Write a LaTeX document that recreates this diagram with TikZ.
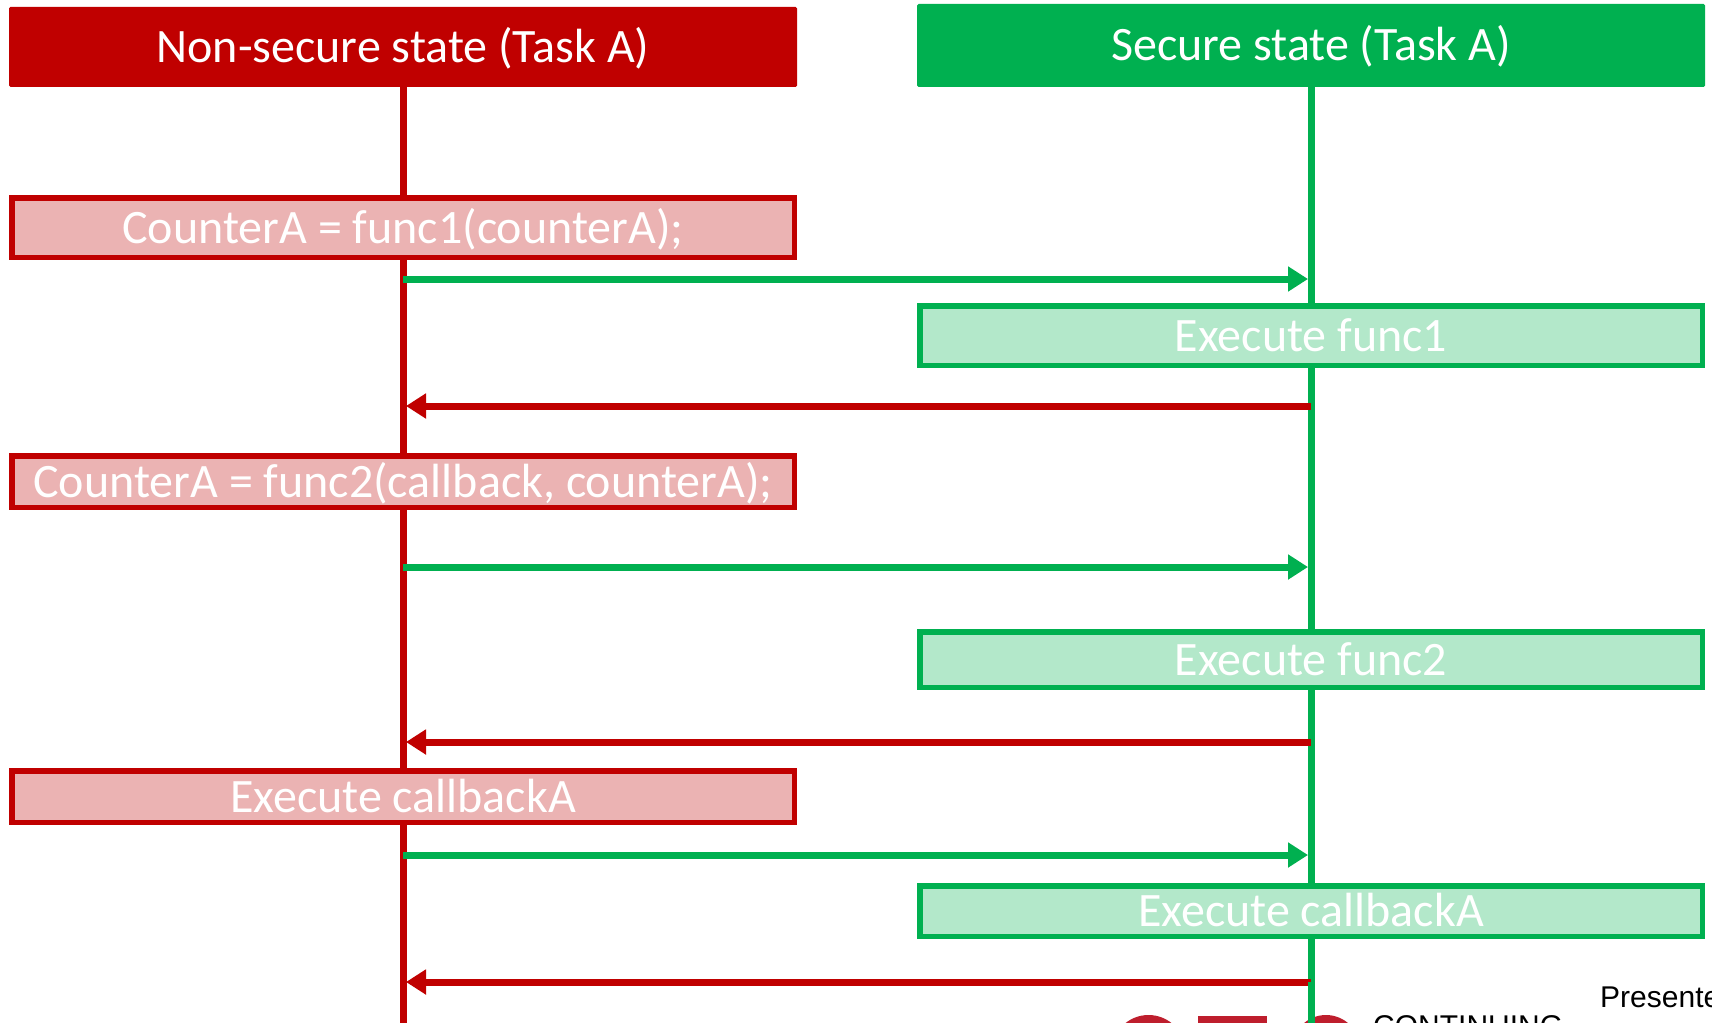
\documentclass[tikz,border=0pt]{standalone}
\usepackage{fontspec}
\setmainfont{Carlito}
\newfontfamily\arialfont{Liberation Sans}
\usetikzlibrary{arrows.meta}
\definecolor{nsred}{HTML}{C00000}
\definecolor{sgreen}{HTML}{00B050}
\definecolor{nsfill}{HTML}{EBB3B3}
\definecolor{sfill}{HTML}{B3E8CA}
\definecolor{logored}{HTML}{BE1E2D}
\begin{document}
\begin{tikzpicture}[x=1pt,y=-1pt,
  lbl/.style={text=white, font=\fontsize{48}{58}\selectfont, text height=31pt, text depth=0pt},
  hdr/.style={rectangle, inner sep=0pt, minimum width=788pt, lbl, rounded corners=1.5pt},
  nsbox/.style={rectangle, draw=nsred, fill=nsfill, line width=5.5pt, inner sep=0pt,
    minimum width=782.5pt, lbl},
  sbox/.style={rectangle, draw=sgreen, fill=sfill, line width=5.5pt, inner sep=0pt,
    minimum width=782.5pt, lbl},
  life/.style={line width=7pt},
  callarrow/.style={line width=7pt, draw=sgreen, -{Triangle[length=20pt,width=24pt]}},
  retarrow/.style={line width=7pt, draw=nsred, -{Triangle[length=20pt,width=24pt]}}]
\useasboundingbox (0,0) rectangle (1712,1022);
\clip (0,0) rectangle (1712,1022);
\fill[white] (0,0) rectangle (1712,1022);

% headers
\node[hdr, fill=nsred, minimum height=80pt] (nh) at (403,47) {Non-secure state (Task A)};
\node[hdr, fill=sgreen, minimum height=83pt] (sh) at (1311,45.5) {Secure state (Task A)};

% lifelines
\coordinate (nbot) at (403,1030);
\coordinate (sbot) at (1311,1030);
\draw[life, nsred] (nh.south) -- (nbot);
\draw[life, sgreen] (sh.south) -- (sbot);

% boxes
\node[nsbox, minimum height=59.5pt] (b1) at (403,227.5) {CounterA = func1(counterA);};
\node[sbox, minimum height=59.5pt] (e1) at (1311,335.5) {Execute func1};
\node[nsbox, minimum height=51.5pt] (b2) at (403,481.5) {CounterA = func2(callback, counterA);};
\node[sbox, minimum height=55.5pt] (e2) at (1311,659.5) {Execute func2};
\node[nsbox, minimum height=51.5pt] (b3) at (403,796.5) {Execute callbackA};
\node[sbox, minimum height=50.5pt] (e3) at (1311,911) {Execute callbackA};

% arrow end points on lifelines
\coordinate (c1s) at (403,279);  \coordinate (c1e) at (1308,279);
\coordinate (r1s) at (1311,406); \coordinate (r1e) at (406,406);
\coordinate (c2s) at (403,567);  \coordinate (c2e) at (1308,567);
\coordinate (r2s) at (1311,742); \coordinate (r2e) at (406,742);
\coordinate (c3s) at (403,855);  \coordinate (c3e) at (1308,855);
\coordinate (r3s) at (1311,982); \coordinate (r3e) at (406,982);

\draw[callarrow] (c1s) -- (c1e);
\draw[retarrow] (r1s) -- (r1e);
\draw[callarrow] (c2s) -- (c2e);
\draw[retarrow] (r2s) -- (r2e);
\draw[callarrow] (c3s) -- (c3e);
\draw[retarrow] (r3s) -- (r3e);

% partial logo at bottom right
\fill[logored] (1148.5,1052) ellipse [x radius=37, y radius=37];
\fill[logored] (1198,1016) rectangle (1267,1030);
\fill[logored] (1326,1049) circle [radius=34];
\draw[life, sgreen] (1311,982) -- (1311,1030);
\node[anchor=base west, inner sep=0pt, font=\arialfont\fontsize{30}{36}\selectfont] (cont) at (1373,1036.5) {CONTINUING};
\node[anchor=base west, inner sep=0pt, font=\arialfont\fontsize{30}{36}\selectfont] (pres) at (1600,1007) {Presente};
\end{tikzpicture}
\end{document}
